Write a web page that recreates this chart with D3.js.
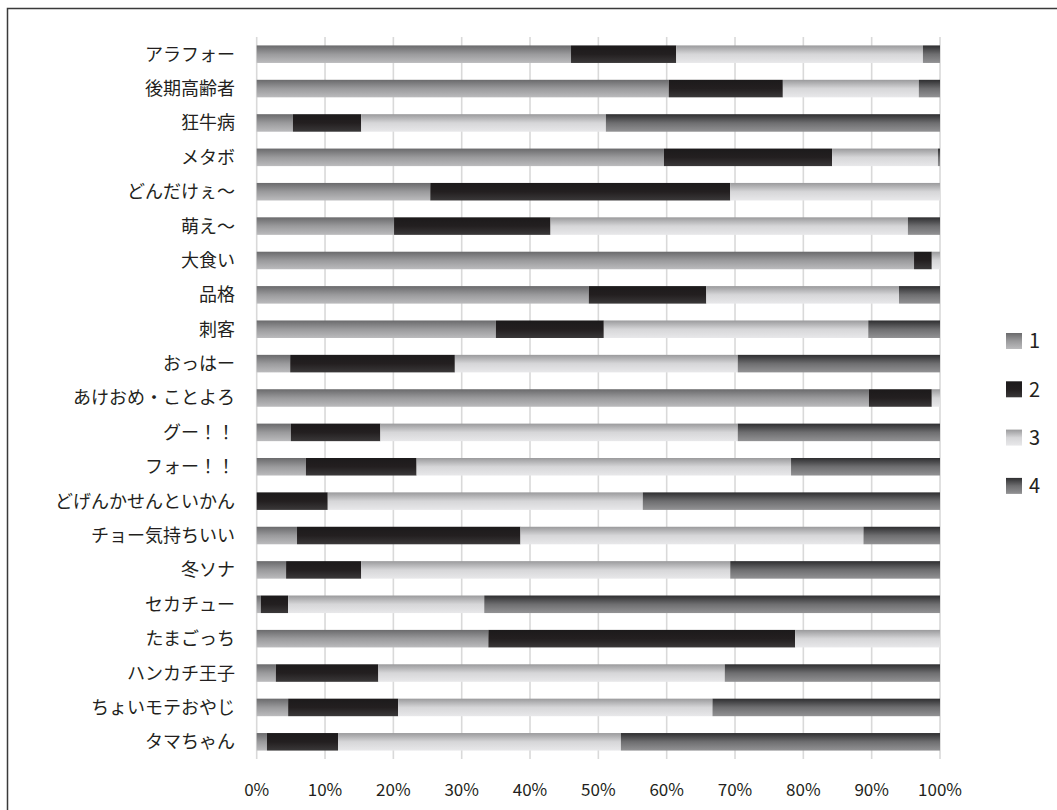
<!DOCTYPE html>
<html>
<head>
<meta charset="utf-8">
<script src="https://cdn.jsdelivr.net/npm/d3@7"></script>
<style>
  body { margin: 0; background: #fff; }
  svg { display: block; font-family: "Noto Sans CJK JP", "Noto Sans", sans-serif; }
</style>
</head>
<body>
<div id="chart"></div>
<script>
// categories, top to bottom
const categories = [
  "アラフォー", "後期高齢者", "狂牛病", "メタボ", "どんだけぇ〜", "萌え〜", "大食い",
  "品格", "刺客", "おっはー", "あけおめ・ことよろ", "グー！！", "フォー！！",
  "どげんかせんといかん", "チョー気持ちいい", "冬ソナ", "セカチュー", "たまごっち",
  "ハンカチ王子", "ちょいモテおやじ", "タマちゃん"
];
const seriesNames = ["1", "2", "3", "4"];

// share of each answer, percent
const s1 = [46.0, 60.3, 5.3, 59.6, 25.4, 20.1, 96.2, 48.6, 35.0, 4.9, 89.6, 5.0, 7.2, 0, 5.9, 4.3, 0.6, 33.9, 2.8, 4.6, 1.5];
const s2 = [15.4, 16.7, 10.0, 24.6, 43.9, 22.9, 2.6, 17.2, 15.8, 24.1, 9.2, 13.1, 16.2, 10.4, 32.7, 11.0, 4.0, 44.9, 15.0, 16.1, 10.4];
const s3 = [36.1, 19.9, 35.8, 15.5, 30.7, 52.3, 1.2, 28.2, 38.7, 41.4, 1.2, 52.3, 54.8, 46.1, 50.2, 54.0, 28.7, 21.2, 50.7, 46.0, 41.4];
const s4 = [2.5, 3.1, 48.9, 0.3, 0, 4.7, 0, 6.0, 10.5, 29.6, 0, 29.6, 21.8, 43.5, 11.2, 30.7, 66.7, 0, 31.5, 33.3, 46.7];

const xTicks = [0, 0.1, 0.2, 0.3, 0.4, 0.5, 0.6, 0.7, 0.8, 0.9, 1];

const rows = categories.map((c, i) => ({ cat: c, "1": s1[i], "2": s2[i], "3": s3[i], "4": s4[i] }));
rows.forEach(r => {
  const tot = seriesNames.reduce((a, k) => a + r[k], 0);
  seriesNames.forEach(k => r[k] = r[k] / tot);
});

const W = 1057, H = 810;
const svg = d3.select("#chart").append("svg").attr("width", W).attr("height", H);

// gradients (Excel style grey fills)
const gradStops = {
  "1": ["#6a6a6c", "#9a9a9c", "#bbbbbd"],
  "2": ["#1c1a1b", "#231f20", "#3a3839"],
  "3": ["#9a9a9c", "#d6d6d8", "#e8e8ea"],
  "4": ["#2e2e30", "#6e6e70", "#929294"]
};
const defs = svg.append("defs");
seriesNames.forEach(k => {
  const g = defs.append("linearGradient").attr("id", "g" + k)
    .attr("x1", 0).attr("y1", 0).attr("x2", 0).attr("y2", 1);
  g.append("stop").attr("offset", "0%").attr("stop-color", gradStops[k][0]);
  g.append("stop").attr("offset", "50%").attr("stop-color", gradStops[k][1]);
  g.append("stop").attr("offset", "100%").attr("stop-color", gradStops[k][2]);
});

svg.append("rect").attr("width", W).attr("height", H).attr("fill", "#fff");
svg.append("rect")
  .attr("x", 7.5).attr("y", 8.5).attr("width", 1100).attr("height", 900)
  .attr("fill", "none").attr("stroke", "#3a3a3a").attr("stroke-width", 1.5);

const x = d3.scaleLinear().domain([0, 1]).range([256.7, 940]);
const y = d3.scaleBand().domain(categories).range([37, 759]).paddingInner(0.49).paddingOuter(0.245);

// gridlines
svg.append("g").selectAll("line").data(xTicks).join("line")
  .attr("x1", d => x(d)).attr("x2", d => x(d))
  .attr("y1", 37).attr("y2", 759)
  .attr("stroke", "#d9d9d9").attr("stroke-width", 1.6);

const stack = d3.stack().keys(seriesNames)(rows);

svg.append("g").selectAll("g").data(stack).join("g")
  .attr("fill", d => `url(#g${d.key})`)
  .selectAll("rect").data(d => d).join("rect")
  .attr("x", d => x(d[0]))
  .attr("width", d => Math.max(0, x(d[1]) - x(d[0])))
  .attr("y", d => y(d.data.cat))
  .attr("height", y.bandwidth());

// category labels
svg.append("g").selectAll("text").data(categories).join("text")
  .attr("x", 235)
  .attr("y", d => y(d) + y.bandwidth() / 2)
  .attr("dy", "0.36em")
  .attr("text-anchor", "end")
  .attr("font-size", 18)
  .attr("fill", "#231f20")
  .text(d => d);

// x axis labels
svg.append("g").selectAll("text").data(xTicks).join("text")
  .attr("x", d => x(d))
  .attr("y", 790)
  .attr("dy", "0.35em")
  .attr("text-anchor", "middle")
  .attr("font-size", 17)
  .attr("fill", "#231f20")
  .text(d3.format(".0%"));

// legend
const legend = svg.append("g").selectAll("g").data(seriesNames).join("g")
  .attr("transform", (d, i) => `translate(1006,${341 + i * 48.3})`);
legend.append("rect")
  .attr("x", 0).attr("y", -8).attr("width", 16).attr("height", 16)
  .attr("fill", d => `url(#g${d})`);
legend.append("text")
  .attr("x", 23).attr("y", 0).attr("dy", "0.36em")
  .attr("font-size", 20)
  .attr("fill", "#231f20")
  .text(d => d);
</script>
</body>
</html>
